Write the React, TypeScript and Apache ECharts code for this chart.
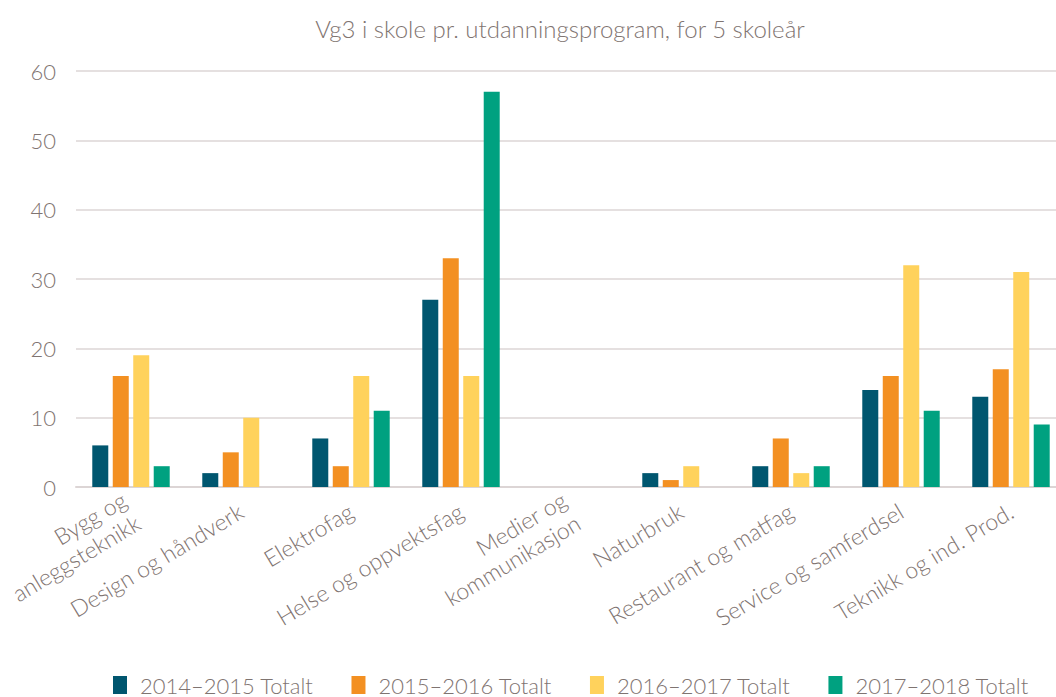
import React, { useEffect, useRef } from "react";
import * as echarts from "echarts";

const title = "Vg3 i skole pr. utdanningsprogram, for 5 skoleår";
const categories = [
  "Bygg og\nanleggsteknikk",
  "Design og håndverk",
  "Elektrofag",
  "Helse og oppvektsfag",
  "Medier og\nkommunikasjon",
  "Naturbruk",
  "Restaurant og matfag",
  "Service og samferdsel",
  "Teknikk og ind. Prod.",
];
const seriesNames = ["2014–2015 Totalt", "2015–2016 Totalt", "2016–2017 Totalt", "2017–2018 Totalt"];
const s2014 = [6, 2, 7, 27, null, 2, 3, 14, 13];
const s2015 = [16, 5, 3, 33, null, 1, 7, 16, 17];
const s2016 = [19, 10, 16, 16, null, 3, 2, 32, 31];
const s2017 = [3, null, 11, 57, null, null, 3, 11, 9];
const yTicks = { min: 0, max: 60, interval: 10 };

const colors = ["#00566f", "#f39022", "#ffd25c", "#00a180"];
const textColor = "#7f7471";
const font = "Lato, 'Noto Sans', sans-serif";

export default function App() {
  const ref = useRef<HTMLDivElement>(null);
  useEffect(() => {
    if (!ref.current) return;
    const chart = echarts.init(ref.current, undefined, { renderer: "svg" });
    const data = [s2014, s2015, s2016, s2017];
    chart.setOption({
      animation: false,
      textStyle: { fontFamily: font, fontWeight: 300 },
      title: {
        text: title,
        left: 555,
        textAlign: "center",
        top: 11,
        textStyle: { fontFamily: font, fontSize: 24, fontWeight: 300, color: textColor },
      },
      legend: {
        left: 108,
        top: 669,
        width: 1000,
        itemWidth: 14,
        itemHeight: 18,
        itemGap: 38,
        icon: "rect",
        textStyle: { fontFamily: font, fontSize: 22, fontWeight: 300, color: textColor, padding: [0, 0, 0, 8] },
        data: seriesNames,
      },
      grid: { left: 76, top: 71, width: 990, height: 416, containLabel: false, outerBoundsMode: "none" },
      xAxis: {
        type: "category",
        data: categories,
        axisLine: { lineStyle: { color: "#dcd5d5", width: 2 } },
        axisTick: { show: false },
        axisLabel: {
          interval: 0,
          rotate: 31,
          margin: 22,
          fontSize: 23,
          fontWeight: 300,
          lineHeight: 27,
          color: textColor,
          fontFamily: font,
        },
      },
      yAxis: {
        type: "value",
        min: yTicks.min,
        max: yTicks.max,
        interval: yTicks.interval,
        axisLine: { show: false },
        axisTick: { show: false },
        splitLine: { lineStyle: { color: "#ddd6d6", width: 1.5 } },
        axisLabel: { fontSize: 22, fontWeight: 300, color: textColor, margin: 20, fontFamily: font },
      },
      series: seriesNames.map((name, i) => ({
        name,
        type: "bar",
        data: data[i],
        barWidth: 16,
        barGap: "28%",
        itemStyle: { color: colors[i] },
      })),
    });
    return () => chart.dispose();
  }, []);
  return (
    <div
      ref={ref}
      style={{ position: "fixed", left: 0, top: 0, width: 1056, height: 697, background: "#fff" }}
    />
  );
}
